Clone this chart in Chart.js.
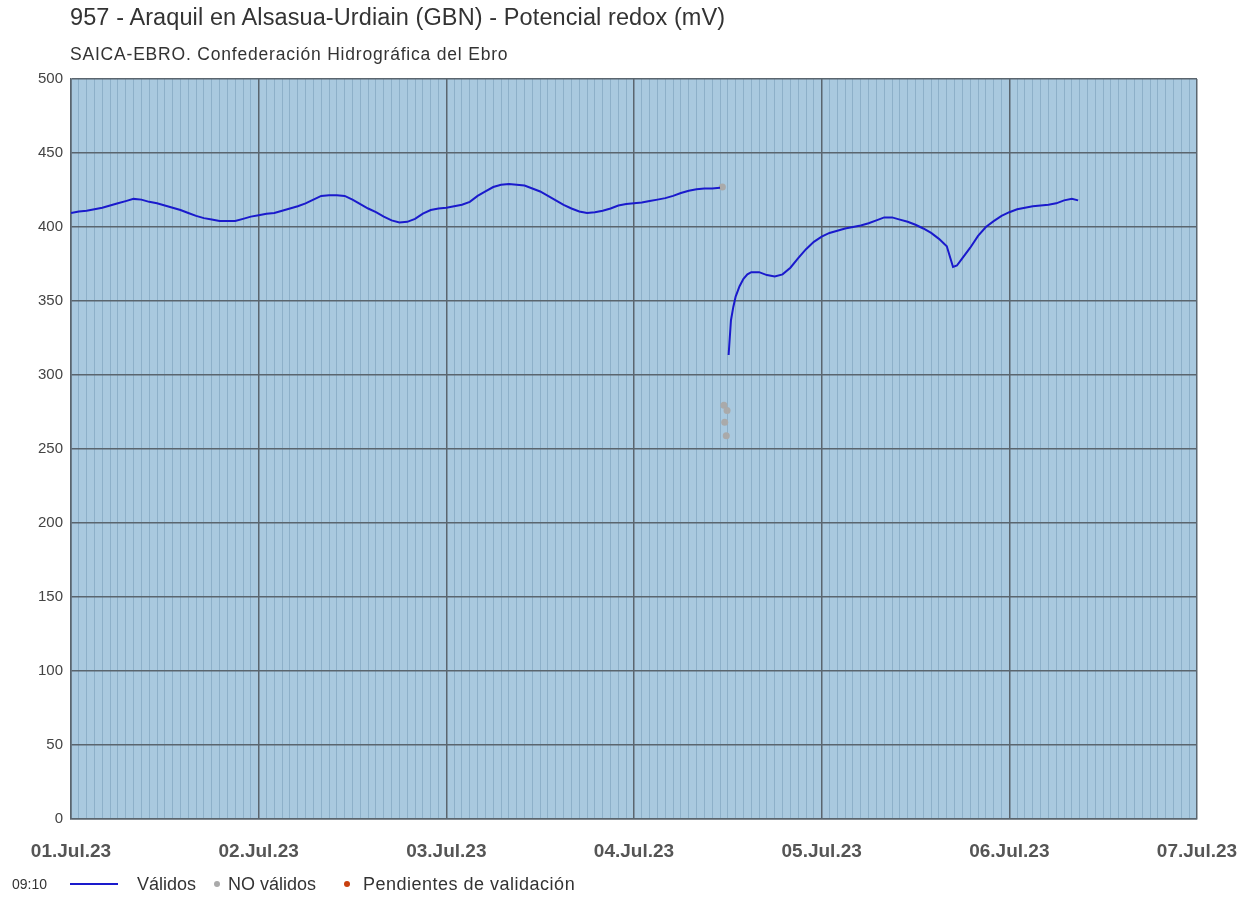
<!DOCTYPE html>
<html>
<head>
<meta charset="utf-8">
<script src="https://cdn.jsdelivr.net/npm/chart.js@4"></script>
<style>
  body { margin: 0; background: #fff; font-family: "Liberation Sans", Arial, sans-serif; }
  #wrap { position: relative; width: 1259px; height: 899px; }
  #title { position: absolute; left: 70px; top: 4px; font-size: 23.5px; letter-spacing: 0.1px; color: #333; }
  #subtitle { position: absolute; left: 70px; top: 44px; font-size: 17.5px; letter-spacing: 0.8px; color: #333; }
  .lg { position: absolute; top: 873px; font-size: 18px; line-height: 22px; color: #333; white-space: nowrap; }
  .dot { position: absolute; top: 881px; width: 6px; height: 6px; border-radius: 50%; }
</style>
</head>
<body>
<div id="wrap">
  <canvas id="myChart" width="1259" height="899"></canvas>
  <div id="title">957 - Araquil en Alsasua-Urdiain (GBN) - Potencial redox (mV)</div>
  <div id="subtitle">SAICA-EBRO. Confederación Hidrográfica del Ebro</div>
  <div class="lg" style="left:12px;top:876px;font-size:14px;line-height:16px">09:10</div>
  <div style="position:absolute;left:70px;top:883px;width:48px;height:2px;background:#1a1acc"></div>
  <div class="lg" style="left:137px">Válidos</div>
  <div class="dot" style="left:214px;background:#aaa"></div>
  <div class="lg" style="left:228px">NO válidos</div>
  <div class="dot" style="left:344px;background:#c8400f"></div>
  <div class="lg" style="left:363px;letter-spacing:0.5px">Pendientes de validación</div>
</div>
<script>
// horas desde 01.Jul.23 00:00
const dayLabels = ["01.Jul.23", "02.Jul.23", "03.Jul.23", "04.Jul.23", "05.Jul.23", "06.Jul.23", "07.Jul.23"];

const hours1 = [];
for (let h = 0; h <= 83; h++) hours1.push(h);
const redox1 = [409.5, 410.5, 411, 412, 413, 414.5, 416, 417.5, 419, 418.5, 417, 416, 414.5, 413, 411.5, 409.5,
  407.5, 406, 405, 404, 404, 404, 405.5, 407, 408, 409, 409.5, 411, 412.5, 414, 416, 418.5, 421, 421.5, 421.5, 421,
  418.5, 415.5, 412.5, 410, 407, 404.5, 403, 403.5, 405.5, 409, 411.5, 412.5, 413, 414, 415, 417, 421, 424, 427,
  428.5, 429, 428.5, 428, 426, 424, 421, 418, 415, 412.5, 410.5, 409.5, 410, 411, 412.5, 414.5, 415.5, 416, 416.5,
  417.5, 418.5, 419.5, 421, 423, 424.5, 425.5, 426, 426, 426.5];

const hours2 = [84.1, 84.4, 84.7, 85, 85.5, 86, 86.5, 87, 88, 89, 90, 91, 92, 93, 94, 95, 96, 97, 98, 99, 100, 101, 102,
  103, 104, 105, 106, 107, 108, 109, 110, 111, 112, 112.8, 113.3, 114, 115, 116, 117, 118, 119, 120, 121, 122, 123,
  124, 125, 126, 127, 128, 128.8];
const redox2 = [313.5, 337, 346, 353, 360, 365, 368, 369.5, 369.5, 367.5, 366.5, 368, 372.5, 379, 385, 390, 393.5, 396,
  397.5, 399, 400, 401, 402.5, 404.5, 406.5, 406.5, 405, 403.5, 401.5, 399, 396, 392, 387, 373, 374, 379, 386, 394, 400,
  404, 407.5, 410, 412, 413, 414, 414.5, 415, 416, 418, 419, 418];

const invalidHours = [83.3, 83.5, 83.9, 83.6, 83.8];
const invalidRedox = [427, 279.5, 276, 268, 259];

const pts = (xs, ys) => xs.map((x, i) => ({ x: x, y: ys[i] }));

const plotBg = {
  id: 'plotBg',
  beforeDraw(chart) {
    const { ctx, chartArea: a } = chart;
    ctx.save();
    ctx.fillStyle = '#a9c9df';
    ctx.fillRect(a.left, a.top, a.right - a.left, a.bottom - a.top);
    ctx.restore();
  }
};

const config = {
  type: 'scatter',
  data: {
    datasets: [
      { data: pts(hours1, redox1), showLine: true, borderColor: '#1a1acc', borderWidth: 2, pointRadius: 0, order: 1 },
      { data: pts(hours2, redox2), showLine: true, borderColor: '#1a1acc', borderWidth: 2, pointRadius: 0, order: 1 },
      { data: pts(invalidHours, invalidRedox), backgroundColor: '#aaaaaa', borderWidth: 0, pointRadius: 3.5, order: 2 }
    ]
  },
  options: {
    responsive: false,
    animation: false,
    layout: { padding: { top: 79, right: 62, left: 0, bottom: 0 } },
    plugins: { legend: { display: false }, tooltip: { enabled: false } },
    scales: {
      x: {
        type: 'linear', min: 0, max: 144,
        afterFit(s) { s.height = 80; },
        afterBuildTicks(s) { s.ticks = []; for (let h = 0; h <= 144; h++) s.ticks.push({ value: h }); },
        ticks: {
          autoSkip: false, maxRotation: 0, padding: 21,
          color: '#555', font: { family: 'Liberation Sans', size: 19, weight: 'bold' },
          callback: v => (v % 24 === 0 ? dayLabels[v / 24] : '')
        },
        grid: {
          drawTicks: false,
          color: c => (c.tick && c.tick.value % 24 === 0 ? '#5a656e' : '#8db0c9'),
          lineWidth: c => (c.tick && c.tick.value % 24 === 0 ? 1.5 : 1)
        },
        border: { color: '#5a656e', width: 1.5 }
      },
      y: {
        min: 0, max: 500,
        afterFit(s) { s.width = 71; },
        ticks: { stepSize: 50, padding: 8, color: '#444', font: { family: 'Liberation Sans', size: 15 } },
        grid: { drawTicks: false, color: '#5a656e', lineWidth: 1.5 },
        border: { color: '#5a656e', width: 1.5 }
      }
    }
  },
  plugins: [plotBg]
};

new Chart(document.getElementById('myChart'), config);
</script>
</body>
</html>
